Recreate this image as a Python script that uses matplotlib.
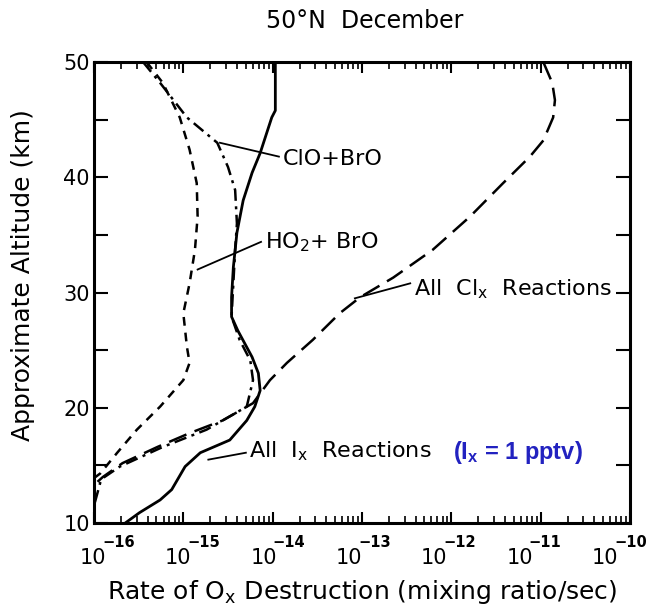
import numpy as np
import matplotlib
matplotlib.use("Agg")
from matplotlib import pyplot as plt
from matplotlib.ticker import LogLocator, FixedLocator, NullFormatter
from matplotlib.transforms import blended_transform_factory, ScaledTranslation

# Altitude profiles (km) and log10 of the Ox destruction rate (mixing ratio/sec)
ix_alt = [50.0, 45.8, 45.2, 42.1, 40.4, 38.0, 35.2, 32.2, 29.6, 27.9, 26.7, 24.4,
          23.0, 21.5, 20.1, 18.9, 17.2, 16.1, 14.9, 12.9, 12.0, 10.9, 10.0]
ix_rate = [-13.97, -13.97, -14.01, -14.14, -14.23, -14.33, -14.40, -14.44, -14.46,
           -14.46, -14.39, -14.23, -14.16, -14.14, -14.20, -14.29, -14.48, -14.81,
           -14.98, -15.13, -15.26, -15.49, -15.65]

clo_bro_alt = [50.0, 48.2, 45.2, 43.0, 40.9, 38.9, 36.0, 33.7, 30.8, 27.9, 25.9,
               24.1, 22.4, 20.1, 18.1, 16.6, 14.9, 13.9, 13.5, 11.5]
clo_bro_rate = [-15.45, -15.26, -14.96, -14.62, -14.50, -14.42, -14.40, -14.42,
                -14.44, -14.46, -14.37, -14.25, -14.22, -14.29, -14.74, -15.23,
                -15.71, -15.90, -15.93, -16.0]

ho2_bro_alt = [50.0, 48.2, 45.2, 42.4, 39.5, 36.6, 33.7, 30.8, 28.2, 25.3, 23.9,
               22.4, 20.1, 18.1, 16.1, 14.3, 13.9]
ho2_bro_rate = [-15.41, -15.23, -15.04, -14.93, -14.85, -14.84, -14.87, -14.93,
                -15.00, -14.96, -14.93, -15.00, -15.26, -15.52, -15.74, -15.93, -16.0]

clx_alt = [50.0, 48.2, 46.7, 45.2, 43.2, 41.8, 39.5, 36.6, 33.7, 31.3, 29.6, 28.2,
           25.9, 23.9, 22.4, 20.4, 18.9, 17.8, 16.6, 15.2, 14.0, 13.3]
clx_rate = [-10.97, -10.87, -10.84, -10.86, -10.97, -11.12, -11.42, -11.79, -12.21,
            -12.65, -13.02, -13.25, -13.55, -13.84, -14.03, -14.22, -14.56, -14.93,
            -15.29, -15.68, -15.90, -16.0]

x_decades = [-16, -15, -14, -13, -12, -11, -10]
y_ticks = [10, 20, 30, 40, 50]

plt.rcParams["font.family"] = "DejaVu Sans"
plt.rcParams["mathtext.default"] = "regular"

fig = plt.figure(figsize=(6.46, 6.09), dpi=100)
ax = fig.add_axes([0.1455, 0.1412, 0.9752 - 0.1455, 0.898 - 0.1412])

ax.plot(10.0 ** np.array(ix_rate), ix_alt, color="black", lw=2.0)
ax.plot(10.0 ** np.array(clo_bro_rate), clo_bro_alt, color="black", lw=1.8,
        dashes=(5, 2.2, 1.2, 2.2))
ax.plot(10.0 ** np.array(ho2_bro_rate), ho2_bro_alt, color="black", lw=1.8,
        dashes=(3.5, 2.8))
ax.plot(10.0 ** np.array(clx_rate), clx_alt, color="black", lw=1.8,
        dashes=(7.5, 3.5))

ax.set_xscale("log")
ax.set_xlim(1e-16, 1e-10)
ax.set_ylim(10, 50)

# inward ticks all round; x decade labels are drawn by hand below
ax.xaxis.set_major_locator(FixedLocator([10.0 ** d for d in x_decades]))
ax.xaxis.set_minor_locator(LogLocator(base=10, subs=np.arange(2, 10), numticks=20))
ax.xaxis.set_minor_formatter(NullFormatter())
ax.xaxis.set_major_formatter(NullFormatter())
ax.yaxis.set_major_locator(FixedLocator(list(range(10, 51, 5))))
ax.set_yticklabels([str(v) if v in y_ticks else "" for v in range(10, 51, 5)], fontsize=15)
ax.tick_params(which="major", direction="in", top=True, right=True, length=8,
               width=1.5)
ax.tick_params(axis="y", which="major", length=10, pad=3)
ax.tick_params(which="minor", direction="in", top=True, right=True, length=5, width=1.2)
for sp in ax.spines.values():
    sp.set_linewidth(2.2)

trans = blended_transform_factory(ax.transData, ax.transAxes)
for i, d in enumerate(x_decades):
    shift = ScaledTranslation((-1 - 4 * i) / 100, 0, fig.dpi_scale_trans)
    ax.text(10.0 ** d, -0.055, "10", transform=trans + shift, ha="center",
            va="top", fontsize=15)
    shift_e = ScaledTranslation((8 - 4 * i) / 100, 0, fig.dpi_scale_trans)
    ax.text(10.0 ** d, -0.027, "\u2212%d" % abs(d), transform=trans + shift_e,
            ha="left", va="top", fontsize=10.5, fontweight="bold")

ax.set_xlabel(r"Rate of O$_x$ Destruction (mixing ratio/sec)", fontsize=18, labelpad=36)
fig.text(0.036, 0.548, "Approximate Altitude (km)", rotation=90, ha="center",
         va="center", fontsize=18)
fig.text(0.565, 0.966, "50°N  December", ha="center", va="center", fontsize=17)

# curve labels with leader lines (data coords: rate, km)
def leader(x0, y0, x1, y1):
    ax.plot([10 ** x0, 10 ** x1], [y0, y1], color="black", lw=1.3)

leader(-14.59, 43.0, -13.93, 41.8)
ax.text(10 ** -13.89, 41.6, "ClO+BrO", fontsize=16, va="center")

leader(-14.84, 32.0, -14.13, 34.4)
ax.text(10 ** -14.09, 34.4, r"HO$_2$+ BrO", fontsize=16, va="center")

leader(-13.08, 29.5, -12.46, 30.8)
ax.text(10 ** -12.42, 30.3, r"All  Cl$_x$  Reactions", fontsize=16, va="center")

leader(-14.72, 15.5, -14.30, 16.1)
ax.text(10 ** -14.26, 16.2, r"All  I$_x$  Reactions", fontsize=16, va="center")
ax.text(10 ** -11.98, 16.1, r"(I$_x$ = 1 pptv)", fontsize=17, va="center",
        color="#2222c0", fontweight="bold", family="Liberation Sans")

fig.savefig("out.png", dpi=100)
